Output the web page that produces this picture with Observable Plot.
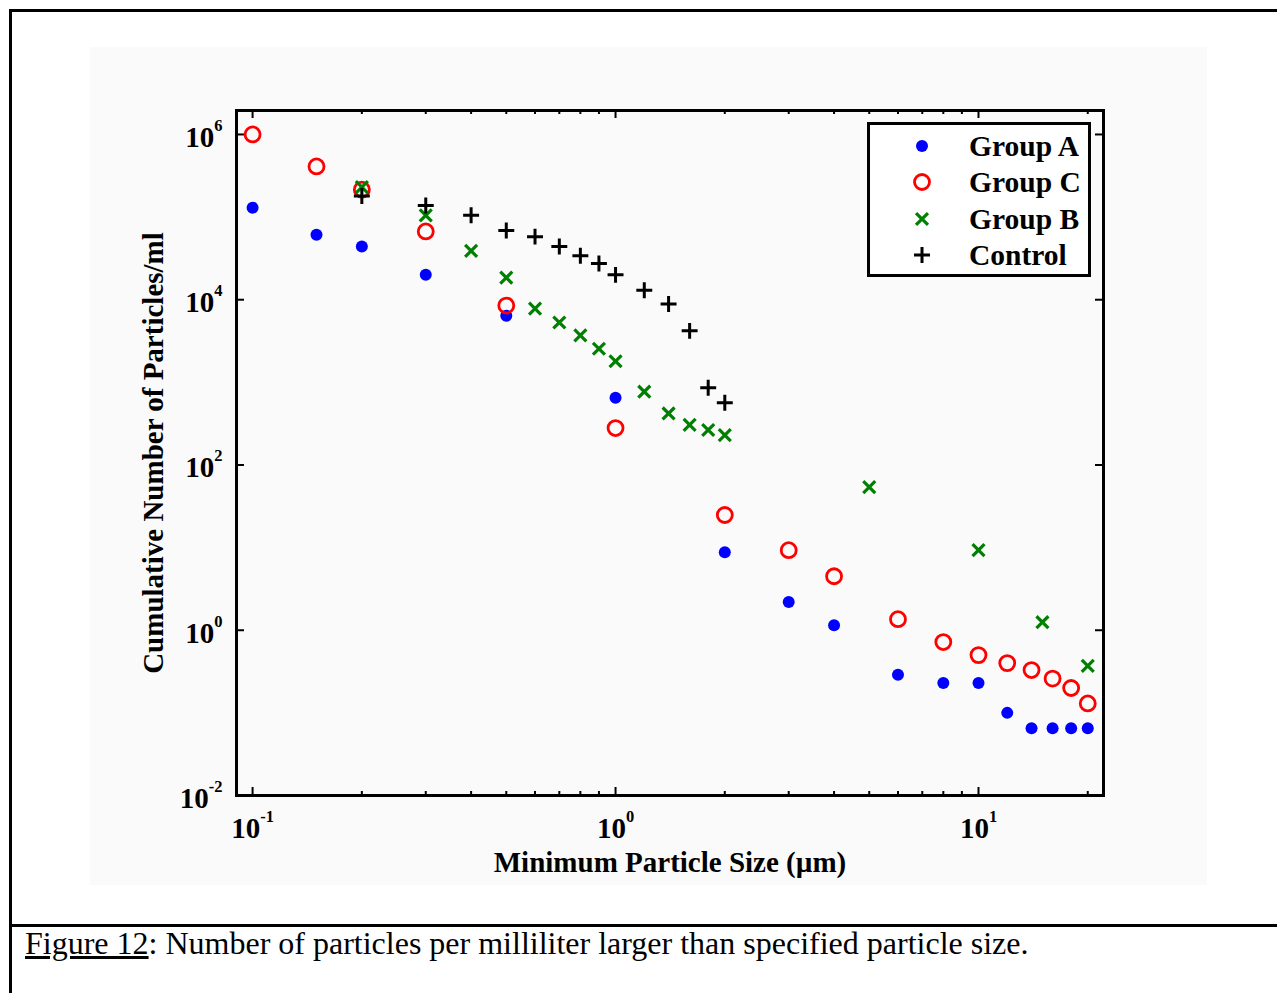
<!DOCTYPE html>
<html>
<head>
<meta charset="utf-8">
<script src="https://cdn.jsdelivr.net/npm/d3@7"></script>
<script src="https://cdn.jsdelivr.net/npm/@observablehq/plot@0.6"></script>
<style>
body{margin:0;background:#fff;width:1277px;height:993px;position:relative;overflow:hidden;font-family:"Liberation Serif","Times New Roman",serif;}
#bg{position:absolute;left:90px;top:47px;width:1117px;height:838px;background:#fafafa;}
#vline{position:absolute;left:9px;top:9px;width:3px;height:984px;background:#000;}
#tline{position:absolute;left:9px;top:9px;width:1268px;height:3px;background:#000;}
#hline{position:absolute;left:9px;top:924px;width:1268px;height:3px;background:#000;}
#chart{position:absolute;left:0;top:0;}
#caption{position:absolute;left:25px;top:927px;font-size:32px;line-height:32px;white-space:nowrap;color:#000;}
#legend{position:absolute;left:867px;top:122px;width:224px;height:155px;box-sizing:border-box;border:3px solid #000;background:#fff;}
#legend svg{display:block;}
</style>
</head>
<body>
<div id="bg"></div>
<div id="vline"></div>
<div id="tline"></div>
<div id="hline"></div>
<div id="chart"></div>
<div id="legend"></div>
<div id="caption"><u>Figure 12</u>: Number of particles per milliliter larger than specified particle size.</div>
<script>
// ---- data ----
const sizesA = [0.1, 0.15, 0.2, 0.3, 0.5, 1, 2, 3, 4, 6, 8, 10, 12, 14, 16, 18, 20];
const groupA = [1.3e5, 6.1e4, 4.4e4, 2.0e4, 6.4e3, 650, 8.8, 2.2, 1.15, 0.29, 0.23, 0.23, 0.10, 0.065, 0.065, 0.065, 0.065];
const sizesC = [0.1, 0.15, 0.2, 0.3, 0.5, 1, 2, 3, 4, 6, 8, 10, 12, 14, 16, 18, 20];
const groupC = [1.0e6, 4.1e5, 2.15e5, 6.7e4, 8.5e3, 280, 24.8, 9.3, 4.5, 1.36, 0.72, 0.5, 0.40, 0.33, 0.26, 0.20, 0.13];
const sizesB = [0.2, 0.3, 0.4, 0.5, 0.6, 0.7, 0.8, 0.9, 1.0, 1.2, 1.4, 1.6, 1.8, 2.0, 5, 10, 15, 20];
const groupB = [2.3e5, 1.05e5, 3.9e4, 1.85e4, 7.8e3, 5.3e3, 3.7e3, 2.55e3, 1.8e3, 770, 420, 305, 265, 230, 54, 9.3, 1.25, 0.37];
const sizesControl = [0.2, 0.3, 0.4, 0.5, 0.6, 0.7, 0.8, 0.9, 1.0, 1.2, 1.4, 1.6, 1.8, 2.0];
const control = [1.8e5, 1.38e5, 1.05e5, 6.9e4, 5.8e4, 4.4e4, 3.4e4, 2.75e4, 2.0e4, 1.3e4, 8.9e3, 4.2e3, 860, 565];

const xMajor = [0.1, 1, 10];
const xMinor = [0.2, 0.3, 0.4, 0.5, 0.6, 0.7, 0.8, 0.9, 2, 3, 4, 5, 6, 7, 8, 9, 20];
const yMajor = [1e-2, 1, 1e2, 1e4, 1e6];
const legendNames = ["Group A", "Group C", "Group B", "Control"];
const xLabel = "Minimum Particle Size (\u00b5m)";
const yLabel = "Cumulative Number of Particles/ml";

// ---- build ----
const rows = (s, v) => s.map((d, i) => ({size: d, count: v[i]}));
const W = 1277, H = 900, mL = 236, mR = 174, mT = 110, mB = 105;
const FH = H - mT - mB;
const serif = '"Liberation Serif","Times New Roman",serif';
const expFmt = d => "10^" + Math.round(Math.log10(d));

const plot = Plot.plot({
  width: W, height: H,
  marginLeft: mL, marginRight: mR, marginTop: mT, marginBottom: mB,
  style: {background: "transparent", fontFamily: serif, color: "#000", overflow: "visible"},
  x: {type: "log", domain: [0.0903, 22.1]},
  y: {type: "log", domain: [0.01, 1.95e6]},
  marks: [
    // inward tick marks on all four sides
    Plot.ruleX(xMajor, {x: d => d, insetTop: FH - 8, stroke: "#000", strokeWidth: 2}),
    Plot.ruleX(xMinor, {x: d => d, insetTop: FH - 4, stroke: "#000", strokeWidth: 2}),
    Plot.ruleX(xMajor, {x: d => d, insetBottom: FH - 8, stroke: "#000", strokeWidth: 2}),
    Plot.ruleX(xMinor, {x: d => d, insetBottom: FH - 4, stroke: "#000", strokeWidth: 2}),
    Plot.ruleY(yMajor, {y: d => d, insetRight: (W - mL - mR) - 8, stroke: "#000", strokeWidth: 2}),
    Plot.ruleY(yMajor, {y: d => d, insetLeft: (W - mL - mR) - 8, stroke: "#000", strokeWidth: 2}),
    Plot.axisX({ticks: xMajor, tickSize: 0, tickPadding: 22, tickFormat: expFmt, fontSize: 29, fontWeight: "bold", label: null}),
    Plot.axisY({ticks: yMajor, tickSize: 0, tickPadding: 14, tickFormat: expFmt, fontSize: 29, fontWeight: "bold", label: null, dy: 3}),
    Plot.frame({stroke: "#000", strokeWidth: 3}),
    Plot.dot(rows(sizesA, groupA), {x: "size", y: "count", r: 6, fill: "#0000ff", stroke: "none"}),
    Plot.dot(rows(sizesC, groupC), {x: "size", y: "count", r: 7.5, fill: "none", stroke: "#ff0000", strokeWidth: 2.8}),
    Plot.dot(rows(sizesB, groupB), {x: "size", y: "count", symbol: "times", r: 5.5, stroke: "#008000", strokeWidth: 3.2}),
    Plot.dot(rows(sizesControl, control), {x: "size", y: "count", symbol: "plus", r: 5.2, stroke: "#000", strokeWidth: 3}),
    Plot.text([xLabel], {text: d => d, frameAnchor: "bottom", lineAnchor: "middle", textAnchor: "middle", dy: 67, fontSize: 29, fontWeight: "bold", fill: "#000"}),
    Plot.text([yLabel], {text: d => d, frameAnchor: "left", textAnchor: "middle", lineAnchor: "middle", dx: -83, rotate: -90, fontSize: 29, fontWeight: "bold", fill: "#000"})
  ]
});

// superscript exponents in tick labels
d3.select(plot).selectAll('g[aria-label="x-axis tick label"] text, g[aria-label="y-axis tick label"] text').each(function () {
  const parts = this.textContent.split("^");
  const sel = d3.select(this);
  sel.text(parts[0]);
  sel.append("tspan").attr("font-size", 16.5).attr("dy", -16).text(parts[1]);
});
document.getElementById("chart").appendChild(plot);

// legend
const leg = d3.select("#legend").append("svg").attr("width", 218).attr("height", 149);
const rowsY = [21, 57, 94, 130];
const mx = 52, tx = 99;
leg.append("circle").attr("cx", mx).attr("cy", rowsY[0]).attr("r", 6).attr("fill", "#0000ff");
leg.append("circle").attr("cx", mx).attr("cy", rowsY[1]).attr("r", 7.5).attr("fill", "none").attr("stroke", "#ff0000").attr("stroke-width", 2.8);
leg.append("path").attr("transform", `translate(${mx},${rowsY[2]})`).attr("d", d3.symbol(d3.symbolTimes, Math.PI * 5.5 * 5.5)()).attr("fill", "none").attr("stroke", "#008000").attr("stroke-width", 3.2);
leg.append("path").attr("transform", `translate(${mx},${rowsY[3]})`).attr("d", d3.symbol(d3.symbolPlus, Math.PI * 5.2 * 5.2)()).attr("fill", "none").attr("stroke", "#000").attr("stroke-width", 3);
leg.selectAll("text.lab").data(legendNames).join("text").attr("class", "lab")
  .attr("x", tx).attr("y", (d, i) => rowsY[i]).attr("dy", "0.35em")
  .attr("font-family", serif).attr("font-size", 29.5).attr("font-weight", "bold").attr("fill", "#000")
  .text(d => d);
</script>
</body>
</html>
